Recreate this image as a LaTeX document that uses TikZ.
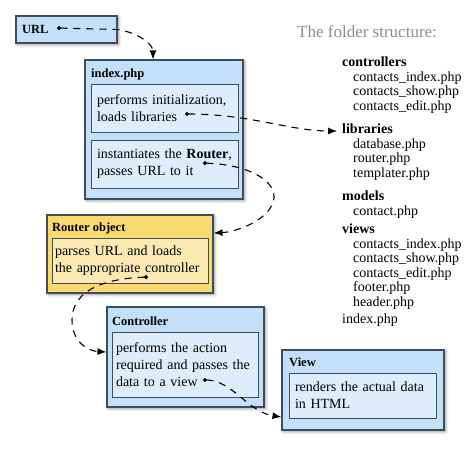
\documentclass[tikz,border=0pt]{standalone}
\usepackage{fontspec}
\setmainfont{Liberation Serif}
\usetikzlibrary{arrows.meta,shadows.blur}

\definecolor{boxblue}{HTML}{C3DFF9}
\definecolor{boxlight}{HTML}{DDEDFC}
\definecolor{boxyellow}{HTML}{FAD96F}
\definecolor{yellowlight}{HTML}{FCEAB2}
\definecolor{edgecol}{HTML}{3F4C5C}
\definecolor{graytxt}{HTML}{8C8C8C}

\newcommand{\boxtxt}{\fontsize{14}{17}\selectfont\hyphenpenalty=10000}
\newcommand{\headtxt}{\fontsize{12.5}{14}\selectfont\bfseries}
\newcommand{\listtxt}{\fontsize{14}{14.5}\selectfont}

\begin{document}
\begin{tikzpicture}[x=1pt,y=-1pt,
  outer/.style={draw=edgecol,line width=1.1pt,fill=boxblue,inner sep=0pt,
    blur shadow={shadow xshift=1.5pt,shadow yshift=-1.5pt,shadow blur radius=3pt,shadow opacity=45}},
  inner/.style={draw=edgecol,line width=0.8pt,fill=boxlight,align=left,inner ysep=0pt,font=\boxtxt},
  title/.style={anchor=base west,inner sep=0pt,font=\headtxt},
  folder/.style={anchor=north west,inner sep=0pt,align=left,font=\listtxt},
  flow/.style={line width=1.1pt,dash pattern=on 7pt off 6pt,
    {Circle[length=4pt]}-{Latex[length=9pt,width=7pt]}}]
  \useasboundingbox (0,0) rectangle (474,451);

  % boxes
  \node[outer,minimum width=101pt,minimum height=27pt,inner xsep=6pt,text width=89pt,align=left,font=\headtxt] (url) at (66.5,29.5) {URL};

  \node[outer,minimum width=158pt,minimum height=139pt] (idx) at (164,129.5) {};
  \node[title] (idxt) at (91,77.5) {index.php};
  \node[inner,minimum height=48pt,inner xsep=6pt,text width=135pt] (init) at (164.5,108) {performs initialization,\\loads libraries};
  \node[inner,minimum height=48pt,inner xsep=6pt,text width=135pt] (inst) at (164.5,164) {instantiates the \textbf{Router},\\passes URL to it};

  \node[outer,fill=boxyellow,minimum width=166pt,minimum height=78pt] (router) at (130,254) {};
  \node[title] (routert) at (52,231.5) {Router object};
  \node[inner,fill=yellowlight,minimum height=45pt,inner xsep=3pt,text width=150pt] (parse) at (130,260.5) {parses URL and loads\\the appropriate controller};

  \node[outer,minimum width=157pt,minimum height=100pt] (ctrl) at (185.5,357) {};
  \node[title] (ctrlt) at (112,325.5) {Controller};
  \node[inner,minimum height=65pt,inner xsep=4pt,text width=138pt] (action) at (185,364.5) {performs the action\\required and passes the\\data to a view};

  \node[outer,minimum width=162pt,minimum height=80pt] (view) at (363,390) {};
  \node[title] (viewt) at (289,366.5) {View};
  \node[inner,minimum height=45pt,inner xsep=6pt,text width=135pt] (render) at (362.5,395.5) {renders the actual data\\in HTML};

  % folder structure
  \node[anchor=west,inner sep=0pt,text=graytxt,font=\fontsize{17}{20}\selectfont] (folders) at (297,32) {The folder structure:};
  \node[folder] (ctrlgrp) at (342,57) {\textbf{controllers}\\\hspace*{11pt}contacts\_index.php\\\hspace*{11pt}contacts\_show.php\\\hspace*{11pt}contacts\_edit.php};
  \node[folder] (libgrp) at (342,124) {\textbf{libraries}\\\hspace*{11pt}database.php\\\hspace*{11pt}router.php\\\hspace*{11pt}templater.php};
  \node[folder] (modgrp) at (342,191) {\textbf{models}\\\hspace*{11pt}contact.php};
  \node[folder] (viewgrp) at (342,224) {\textbf{views}\\\hspace*{11pt}contacts\_index.php\\\hspace*{11pt}contacts\_show.php\\\hspace*{11pt}contacts\_edit.php\\\hspace*{11pt}footer.php\\\hspace*{11pt}header.php};
  \node[folder] (idxfile) at (342,314) {index.php};

  % connectors
  \coordinate (urldot) at (57,28);
  \coordinate (libdot) at (185,114);
  \coordinate (routdot) at (203,163);
  \coordinate (ctrldot) at (148,277);
  \coordinate (viewdot) at (203,380);

  \draw[flow] (urldot) -- (url.east) .. controls (140,33) and (153,45) .. ([xshift=-11pt]idx.north);
  \draw[flow] (libdot) .. controls (250,114) and (290,131) .. ([shift={(-5pt,-7pt)}]libgrp.north west);
  \draw[flow] (routdot) .. controls (255,165) and (282,185) .. (272,205) .. controls (264,222) and (235,232) .. ([yshift=21pt]router.east);
  \draw[flow] (ctrldot) .. controls (95,279) and (72,295) .. (72,320) .. controls (72,342) and (88,351) .. ([yshift=5pt]ctrl.west);
  \draw[flow] (viewdot) .. controls (232,380) and (248,412) .. ([yshift=-27pt]view.west);
\end{tikzpicture}
\end{document}
